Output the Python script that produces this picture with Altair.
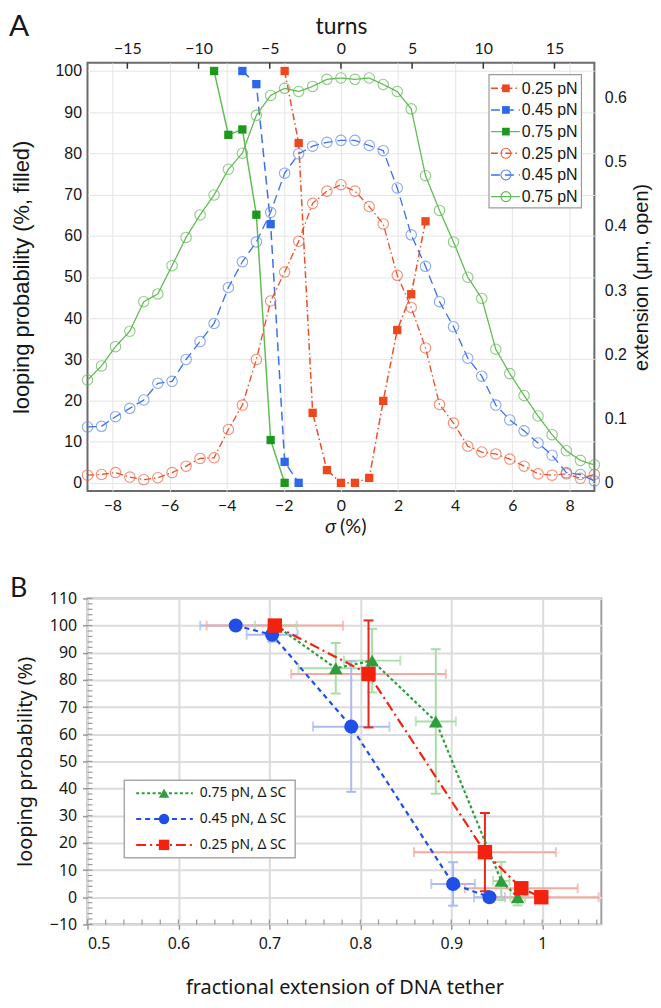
import altair as alt
import pandas as pd

# ---------------- Panel A data ----------------
SERIES = ["0.25 pN", "0.45 pN", "0.75 pN"]

SIGMA = [-8.87, -8.38, -7.89, -7.39, -6.90, -6.41, -5.91, -5.42, -4.93, -4.44,
         -3.94, -3.45, -2.96, -2.46, -1.97, -1.48, -0.99, -0.49, 0.00, 0.49,
         0.99, 1.48, 1.97, 2.46, 2.96, 3.45, 3.94, 4.44, 4.93, 5.42,
         5.91, 6.41, 6.90, 7.39, 7.89, 8.38, 8.87]

EXT_025 = [0.012, 0.013, 0.016, 0.009, 0.005, 0.008, 0.016, 0.026, 0.038, 0.039,
           0.083, 0.121, 0.192, 0.283, 0.328, 0.376, 0.435, 0.454, 0.464, 0.454,
           0.430, 0.403, 0.323, 0.273, 0.210, 0.122, 0.093, 0.057, 0.048, 0.045,
           0.037, 0.026, 0.014, 0.012, 0.014, 0.007, 0.013]
EXT_045 = [0.087, 0.088, 0.103, 0.116, 0.129, 0.155, 0.158, 0.192, 0.220, 0.248,
           0.304, 0.344, 0.375, 0.421, 0.482, 0.512, 0.524, 0.530, 0.533, 0.533,
           0.525, 0.517, 0.459, 0.386, 0.337, 0.282, 0.243, 0.194, 0.166, 0.121,
           0.098, 0.081, 0.062, 0.043, 0.016, 0.013, 0.003]
EXT_075 = [0.160, 0.182, 0.212, 0.236, 0.282, 0.294, 0.338, 0.382, 0.417, 0.448,
           0.488, 0.513, 0.572, 0.603, 0.614, 0.609, 0.617, 0.628, 0.630, 0.628,
           0.630, 0.620, 0.609, 0.582, 0.478, 0.424, 0.375, 0.320, 0.287, 0.208,
           0.170, 0.136, 0.104, 0.075, 0.050, 0.035, 0.028]

LOOP_025_SIGMA = [-1.97, -1.48, -0.99, -0.49, 0.00, 0.49, 0.99, 1.48, 1.97, 2.46, 2.96]
LOOP_025 = [100, 82.5, 17.0, 3.1, 0, 0, 1.2, 19.9, 37.1, 45.8, 63.5]
LOOP_045_SIGMA = [-3.45, -2.96, -2.46, -1.97, -1.48]
LOOP_045 = [100, 96.8, 62.8, 5.1, 0]
LOOP_075_SIGMA = [-4.44, -3.94, -3.45, -2.96, -2.46, -1.97]
LOOP_075 = [100, 84.5, 85.8, 65.1, 10.4, 0]

TURN_TICKS = [-15, -10, -5, 0, 5, 10, 15]
SIGMA_TICKS = [-8, -6, -4, -2, 0, 2, 4, 6, 8]
LOOP_TICKS = [0, 10, 20, 30, 40, 50, 60, 70, 80, 90, 100]
EXT_TICKS = [0, 0.1, 0.2, 0.3, 0.4, 0.5, 0.6]
LEGEND_A = ["0.25 pN", "0.45 pN", "0.75 pN", "0.25 pN", "0.45 pN", "0.75 pN"]

# ---------------- Panel B data ----------------
SERIES_B = ["0.75 pN, Δ SC", "0.45 pN, Δ SC", "0.25 pN, Δ SC"]
B_X_075 = [0.707, 0.773, 0.813, 0.883, 0.955, 0.973]
B_Y_075 = [100, 84.3, 87.1, 64.7, 6.0, 0.0]
B_XERR_075 = [0.023, 0.041, 0.031, 0.022, 0.009, 0.008]
B_YERR_075 = [0, 9.3, 11.7, 26.6, 7.0, 3.0]

B_X_045 = [0.663, 0.703, 0.790, 0.902, 0.942]
B_Y_045 = [100, 96.6, 62.8, 4.9, 0.0]
B_XERR_045 = [0.039, 0.028, 0.042, 0.024, 0.017]
B_YERR_045 = [0, 2.5, 24.0, 8.0, 1.5]

B_X_025 = [0.706, 0.809, 0.937, 0.977, 0.999]
B_Y_025 = [100, 82.2, 16.6, 3.3, 0.0]
B_XERR_025 = [0.075, 0.085, 0.078, 0.062, 0.063]
B_YERR_025 = [0, 19.7, 14.4, 0, 0]

B_X_TICKS = [0.5, 0.6, 0.7, 0.8, 0.9, 1.0]
B_Y_TICKS = [-10, 0, 10, 20, 30, 40, 50, 60, 70, 80, 90, 100, 110]
B_X_MINOR = [round(0.5 + 0.02 * i, 2) for i in range(29)]
B_Y_MINOR = list(range(-10, 111, 2))

# ---------------- styles ----------------
FA = "Liberation Sans"
FL = "Lato"
FN = "Noto Sans"
TXT = "#161616"

SQ_COLORS = ["#F0461B", "#2C68EA", "#1C991C"]
OPEN_COLORS = ["#F0603A", "#5A85EE", "#5DB850"]
LINE_COLORS = ["#F04C26", "#3A70EC", "#62BC55"]
DASHES_A = [[7, 3, 1.5, 3], [9, 5], [1, 0]]

W_A, H_A = 510, 431
W_B, H_B = 517, 328

# ================= Panel A =================
ext_rows = []
for lab, vals in zip(SERIES, [EXT_025, EXT_045, EXT_075]):
    for s, v in zip(SIGMA, vals):
        ext_rows.append({"series": lab, "sigma": s, "ext": v})
ext_df = pd.DataFrame(ext_rows)

loop_rows = []
for lab, xs, vals in zip(SERIES, [LOOP_025_SIGMA, LOOP_045_SIGMA, LOOP_075_SIGMA],
                         [LOOP_025, LOOP_045, LOOP_075]):
    for s, v in zip(xs, vals):
        loop_rows.append({"series": lab, "sigma": s, "loop": v})
loop_df = pd.DataFrame(loop_rows)

xA = alt.Scale(domain=[-8.87, 8.87], nice=False, zero=False)
yLoop = alt.Scale(domain=[-2, 102], nice=False, zero=False)
yExt = alt.Scale(domain=[-0.0128, 0.6538], nice=False, zero=False)

SIG_AXIS = alt.Axis(orient="bottom", values=SIGMA_TICKS, title=None, grid=True,
                    gridColor="#e4e4e4", gridWidth=1, ticks=False, domain=False,
                    labelFont=FL, labelFontSize=16, labelColor=TXT, labelPadding=7)
LOOP_AXIS = alt.Axis(orient="left", values=LOOP_TICKS, title="looping probability (%, filled)",
                     grid=True, gridColor="#e4e4e4", gridWidth=1, ticks=False, domain=False,
                     labelFont=FA, labelFontSize=16, labelColor=TXT, labelPadding=6,
                     titleFont=FA, titleFontSize=22, titleFontWeight="normal",
                     titleColor=TXT, titlePadding=22)
EXT_AXIS = alt.Axis(orient="right", values=EXT_TICKS, format="~g", title="extension (μm, open)",
                    grid=False, ticks=False, domain=False, labelFont=FA, labelFontSize=16,
                    labelColor=TXT, labelPadding=10, titleFont=FA, titleFontSize=20,
                    titleFontWeight="normal", titleColor=TXT, titlePadding=5, titleAngle=270,
                    titleBaseline="top")

line_color = alt.Color("series:N", scale=alt.Scale(domain=SERIES, range=LINE_COLORS), legend=None)
dash_enc = alt.StrokeDash("series:N", scale=alt.Scale(domain=SERIES, range=DASHES_A), legend=None)

ext_x = alt.X("sigma:Q", scale=xA, axis=None)
ext_y = alt.Y("ext:Q", scale=yExt, axis=EXT_AXIS)
ext_layer = alt.layer(
    alt.Chart(ext_df).mark_line(strokeWidth=1.3).encode(x=ext_x, y=ext_y, color=line_color,
                                                        strokeDash=dash_enc),
    alt.Chart(ext_df).mark_point(shape="circle", filled=False, size=110, strokeWidth=1.1).encode(
        x=ext_x, y=ext_y,
        stroke=alt.Stroke("series:N", scale=alt.Scale(domain=SERIES, range=OPEN_COLORS), legend=None)),
).resolve_scale(color="independent")

loop_x = alt.X("sigma:Q", scale=xA, axis=SIG_AXIS)
loop_y = alt.Y("loop:Q", scale=yLoop, axis=LOOP_AXIS)
loop_layer = alt.layer(
    alt.Chart(loop_df).mark_line(strokeWidth=1.5).encode(x=loop_x, y=loop_y, color=line_color,
                                                         strokeDash=dash_enc),
    alt.Chart(loop_df).mark_point(shape="square", filled=True, size=70, opacity=1).encode(
        x=loop_x, y=loop_y,
        fill=alt.Fill("series:N", scale=alt.Scale(domain=SERIES, range=SQ_COLORS), legend=None)),
)

turns_layer = alt.Chart(pd.DataFrame({"t": TURN_TICKS})).mark_rule(color="#333", strokeWidth=1.5).encode(
    x=alt.X("t:Q", scale=alt.Scale(domain=[-17.8, 17.8], nice=False, zero=False),
            axis=alt.Axis(orient="top", values=TURN_TICKS, title="turns", grid=False, ticks=False,
                          domain=False, labelFont=FL, labelFontSize=16, labelColor=TXT,
                          labelPadding=6, titleFont=FL, titleFontSize=23,
                          titleFontWeight="normal", titleColor=TXT, titlePadding=2)),
    y=alt.value(0), y2=alt.value(6),
)

# legend of panel A
legA_layers = [alt.Chart(pd.DataFrame({"k": [0]})).mark_rect(fill="white", stroke="#9a9a9a", strokeWidth=1.2).encode(
    x=alt.value(404), x2=alt.value(497), y=alt.value(12), y2=alt.value(146))]
for i, lab in enumerate(LEGEND_A):
    si = i % 3
    filled = i < 3
    col = SQ_COLORS[si] if filled else OPEN_COLORS[si]
    yy = 25.7 + 21.8 * i
    d = pd.DataFrame({"label": [lab]})
    legA_layers.append(alt.Chart(d).mark_rule(color=LINE_COLORS[si], strokeWidth=1.4, strokeDash=DASHES_A[si]).encode(
        x=alt.value(406), x2=alt.value(435), y=alt.value(yy)))
    legA_layers.append(alt.Chart(d).mark_point(shape="square" if filled else "circle", filled=filled,
                                                size=60 if filled else 100, color=col, opacity=1,
                                                strokeWidth=1.1).encode(
        x=alt.value(421), y=alt.value(yy)))
    legA_layers.append(alt.Chart(d).mark_text(align="left", baseline="middle", font=FA, fontSize=16,
                                               color=TXT).encode(
        x=alt.value(437), y=alt.value(yy + 0.5), text="label:N"))

sig_title = [
    alt.Chart(pd.DataFrame({"t": ["σ"]})).mark_text(align="right", baseline="alphabetic", font=FL,
                                                   fontSize=20, fontStyle="italic", color=TXT).encode(
        x=alt.value(250), y=alt.value(473), text="t:N"),
    alt.Chart(pd.DataFrame({"t": ["(%)"]})).mark_text(align="left", baseline="alphabetic", font=FL,
                                                     fontSize=20, color=TXT).encode(
        x=alt.value(254), y=alt.value(473), text="t:N"),
    alt.Chart(pd.DataFrame({"t": ["A"]})).mark_text(align="left", baseline="top", font=FL,
                                                   fontSize=30, color=TXT).encode(
        x=alt.value(-79), y=alt.value(-51), text="t:N"),
]

chartA = alt.layer(loop_layer, ext_layer, turns_layer, *legA_layers, *sig_title).resolve_scale(
    x="independent", y="independent", color="independent", strokeDash="independent",
    fill="independent", stroke="independent"
).properties(width=W_A, height=H_A, view=alt.ViewBackground(stroke="#6b6b6b", strokeWidth=2))

# ================= Panel B =================
B_COLORS = ["#2E9E3C", "#1F4FE8", "#F2220F"]
B_LIGHT = ["#A9DCA9", "#AABAF2", "#F6A9A0"]
B_VERT = ["#A9DCA9", "#AABAF2", "#E8261A"]
B_DASH = [[3, 2.5], [5, 4], [10, 4, 2, 4]]
B_SHAPES = ["triangle-up", "circle", "square"]

b_rows = []
for lab, xs, ys, xe, ye in zip(SERIES_B,
                               [B_X_075, B_X_045, B_X_025],
                               [B_Y_075, B_Y_045, B_Y_025],
                               [B_XERR_075, B_XERR_045, B_XERR_025],
                               [B_YERR_075, B_YERR_045, B_YERR_025]):
    for x, y, a, b in zip(xs, ys, xe, ye):
        b_rows.append({"series": lab, "x": x, "y": y, "xerr": a, "yerr": b})
bdf = pd.DataFrame(b_rows)

xB = alt.Scale(domain=[0.5, 1.065], nice=False, zero=False)
yB = alt.Scale(domain=[-10, 110], nice=False, zero=False)

BX_AXIS = alt.Axis(values=B_X_TICKS, format="~g", title="fractional extension of DNA tether",
                   grid=True, gridColor="#dcdcdc", gridWidth=2, ticks=True, tickSize=5,
                   tickColor="#999", tickWidth=1.5, domain=False, labelFont=FN, labelFontSize=16,
                   labelColor=TXT, labelPadding=6, titleFont=FN, titleFontSize=20,
                   titleFontWeight="normal", titleColor=TXT, titlePadding=27)
BY_AXIS = alt.Axis(values=B_Y_TICKS, title="looping probability (%)", grid=True,
                   gridColor="#dcdcdc", gridWidth=2, ticks=True, tickSize=5, tickColor="#999",
                   tickWidth=1.5, domain=False, labelFont=FN, labelFontSize=16, labelColor=TXT,
                   labelPadding=6, titleFont=FN, titleFontSize=20, titleFontWeight="normal",
                   titleColor=TXT, titlePadding=14)

BX = lambda f: alt.X(f, scale=xB, axis=BX_AXIS)
BY = lambda f: alt.Y(f, scale=yB, axis=BY_AXIS)

base_b = alt.Chart(bdf).transform_calculate(
    xlo="datum.x - datum.xerr", xhi="datum.x + datum.xerr",
    ylo="datum.y - datum.yerr", yhi="datum.y + datum.yerr")

light = alt.Stroke("series:N", scale=alt.Scale(domain=SERIES_B, range=B_LIGHT), legend=None)
main = alt.Color("series:N", scale=alt.Scale(domain=SERIES_B, range=B_COLORS), legend=None)

herr = base_b.mark_rule(strokeWidth=2).encode(x=BX("xlo:Q"), x2="xhi:Q", y=BY("y:Q"), stroke=light)
hcap_lo = base_b.mark_point(shape="M0,-1L0,1", size=100, strokeWidth=2, filled=False).encode(
    x=BX("xlo:Q"), y=BY("y:Q"), stroke=light)
hcap_hi = base_b.mark_point(shape="M0,-1L0,1", size=100, strokeWidth=2, filled=False).encode(
    x=BX("xhi:Q"), y=BY("y:Q"), stroke=light)

vert_layers = []
for lab, col in zip(SERIES_B, B_VERT):
    vb = base_b.transform_filter(alt.datum.series == lab).transform_filter("datum.yerr > 0")
    vert_layers.append(vb.mark_rule(strokeWidth=2, color=col).encode(x=BX("x:Q"), y=BY("ylo:Q"), y2="yhi:Q"))
    vert_layers.append(vb.mark_point(shape="M-1,0L1,0", size=100, strokeWidth=2, filled=False,
                                     color=col, opacity=1).encode(x=BX("x:Q"), y=BY("ylo:Q")))
    vert_layers.append(vb.mark_point(shape="M-1,0L1,0", size=100, strokeWidth=2, filled=False,
                                     color=col, opacity=1).encode(x=BX("x:Q"), y=BY("yhi:Q")))

lines_b = alt.Chart(bdf).mark_line(strokeWidth=2.2).encode(
    x=BX("x:Q"), y=BY("y:Q"), color=main,
    strokeDash=alt.StrokeDash("series:N", scale=alt.Scale(domain=SERIES_B, range=B_DASH), legend=None))

marks_b = []
for lab, shp, col, sz in zip(["0.45 pN, Δ SC", "0.75 pN, Δ SC", "0.25 pN, Δ SC"],
                             ["circle", "triangle-up", "square"],
                             [B_COLORS[1], B_COLORS[0], B_COLORS[2]], [200, 190, 210]):
    marks_b.append(alt.Chart(bdf).transform_filter(alt.datum.series == lab).mark_point(
        shape=shp, filled=True, size=sz, color=col, opacity=1).encode(x=BX("x:Q"), y=BY("y:Q")))

minor_x = alt.Chart(pd.DataFrame({"v": B_X_MINOR})).mark_rule(color="#9a9a9a", strokeWidth=1.2).encode(
    x=BX("v:Q"), y=alt.value(H_B), y2=alt.value(H_B - 5))
minor_y = alt.Chart(pd.DataFrame({"v": B_Y_MINOR})).mark_rule(color="#9a9a9a", strokeWidth=1.2).encode(
    y=BY("v:Q"), x=alt.value(0), x2=alt.value(5))

legB_layers = [alt.Chart(pd.DataFrame({"k": [0]})).mark_rect(fill="white", stroke="#a8a8a8", strokeWidth=1.5).encode(
    x=alt.value(37), x2=alt.value(209), y=alt.value(183), y2=alt.value(261))]
for i, lab in enumerate(SERIES_B):
    yy = 196 + 26 * i
    d = pd.DataFrame({"label": [lab]})
    legB_layers.append(alt.Chart(d).mark_rule(color=B_COLORS[i], strokeWidth=2, strokeDash=B_DASH[i]).encode(
        x=alt.value(49), x2=alt.value(106), y=alt.value(yy)))
    legB_layers.append(alt.Chart(d).mark_point(shape=B_SHAPES[i], filled=True, size=110,
                                                color=B_COLORS[i], opacity=1).encode(
        x=alt.value(77), y=alt.value(yy)))
    legB_layers.append(alt.Chart(d).mark_text(align="left", baseline="middle", font=FN, fontSize=14,
                                               color=TXT).encode(
        x=alt.value(113), y=alt.value(yy), text="label:N"))

labelB = alt.Chart(pd.DataFrame({"t": ["B"]})).mark_text(align="left", baseline="top", font=FL,
                                                        fontSize=27, color=TXT).encode(
    x=alt.value(-78), y=alt.value(-22), text="t:N")

chartB = alt.layer(minor_x, minor_y, herr, hcap_lo, hcap_hi, *vert_layers, lines_b,
                   *marks_b, *legB_layers, labelB).resolve_scale(
    color="independent", stroke="independent", strokeDash="independent"
).properties(width=W_B, height=H_B, view=alt.ViewBackground(stroke="#a0a0a0", strokeWidth=2))

chart = alt.vconcat(chartA, chartB, spacing=37).properties(padding=0)

chart.save("out.html", embed_options={"renderer": "svg", "actions": False})
